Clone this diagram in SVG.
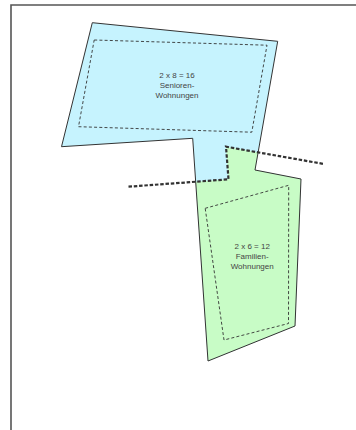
<svg xmlns="http://www.w3.org/2000/svg" width="356" height="430" viewBox="0 0 356 430">
<style>
.frame{fill:none;stroke:#555;stroke-width:1.6}
.outline{fill:none;stroke:#333;stroke-width:1}
.inner{fill:none;stroke:#333;stroke-width:0.9;stroke-dasharray:3 2.2}
.cut{fill:none;stroke:#333;stroke-width:2.2;stroke-dasharray:3.5 1.8}
.lbl{font-family:"Liberation Sans",Arial,sans-serif;font-size:8px;fill:#444;text-anchor:middle}
</style>
<rect width="356" height="430" fill="#fff"/>
<path class="frame" d="M11,430 V5 H356"/>
<g id="senioren">
<polygon fill="#c6f3fe" points="92.3,22.7 277.7,41.3 255,170 301,179 295,326 208,361 192.7,138.3 61.5,146.7"/>
<polygon class="inner" points="94.2,40 267,45.2 251.8,132.2 78.5,126.7"/>
<text class="lbl" x="177" y="78.3">2 x 8 = 16</text>
<text class="lbl" x="177" y="88">Senioren-</text>
<text class="lbl" x="177" y="97.7">Wohnungen</text>
</g>
<g id="familien">
<polygon fill="#c8fcc6" points="226,146.7 258.3,152.6 255,170 301,179 295,326 208,361 195.7,181.8 228.5,179.3"/>
<polygon class="inner" points="205.2,208.3 288.7,185.3 288.5,323.5 224,340"/>
<text class="lbl" x="252.2" y="248.7">2 x 6 = 12</text>
<text class="lbl" x="252.2" y="259">Familien-</text>
<text class="lbl" x="252.2" y="268.8">Wohnungen</text>
</g>
<g id="outline">
<polygon class="outline" points="92.3,22.7 277.7,41.3 255,170 301,179 295,326 208,361 192.7,138.3 61.5,146.7"/>
</g>
<g id="connectors">
<polyline class="cut" points="128.5,186.7 228.5,179.3 226,146.7 324,164"/>
</g>
</svg>
